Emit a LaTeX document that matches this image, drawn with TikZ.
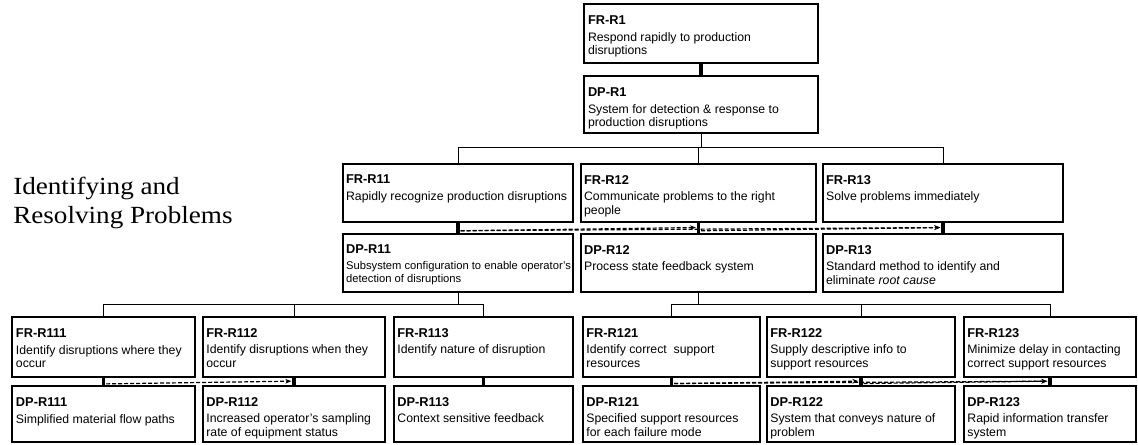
\documentclass[tikz,border=0pt]{standalone}
\usepackage{fontspec}
\setmainfont{Liberation Sans}
\newfontfamily\serifA{Liberation Serif}
\usetikzlibrary{fit,calc,arrows.meta}
\newcommand\titlefnt{\fontsize{9.6pt}{10.2pt}\selectfont\bfseries}
\newcommand\descfnt{\fontsize{9.2pt}{10.3pt}\selectfont}
\newcommand\smalldescfnt{\fontsize{8.4pt}{9.6pt}\selectfont}
\tikzset{
  thinbox/.style={draw, line width=0.8pt, inner sep=0pt},
  thickbox/.style={draw, line width=2.1pt, inner sep=0pt},
  medbox/.style={draw, line width=1.7pt, inner sep=0pt},
  txt/.style={inner sep=0pt, align=left, font=\descfnt},
  smalltxt/.style={inner sep=0pt, align=left, font=\smalldescfnt},
  fdlink/.style={line width=2.6pt},
  tree/.style={line width=0.7pt},
  dep/.style={line width=0.9pt, dash pattern=on 3pt off 1.5pt, -{Stealth[length=4.5pt,width=3.5pt]}},
  lefttitle/.style={inner sep=0pt, anchor=base west, font=\serifA\fontsize{18.5pt}{21pt}\selectfont}
}
% #1 name, #2 box style, #3-#6 corners, #7 title, #8 text, #9 text style
\newcommand\dbox[9]{%
  \node[#2, fit={(#3,#4) (#5,#6)}] (#1) {};
  \node[#9, anchor=north west] (#1t) at ([xshift=3.2pt,yshift=-9.2pt]#1.north west)
    {{\titlefnt #7}\\[2pt]#8};
}
\begin{document}
\begin{tikzpicture}[x=0.75pt,y=-0.75pt]
\useasboundingbox (0,0) rectangle (1138,444);

% left title
\node[lefttitle] (L1) at (13,194) {\scalebox{1.1}[1]{Identifying and}};
\node[lefttitle] (L2) at (13,223) {\scalebox{1.1}[1]{Resolving Problems}};

% level 1
\dbox{FR1}{thinbox}{584}{4}{818}{63}{FR-R1}{Respond rapidly to production\\disruptions}{txt}
\dbox{DP1}{thinbox}{584}{76}{818}{133}{DP-R1}{System for detection \& response to\\production disruptions}{txt}

% level 2
\dbox{FR11}{thickbox}{343}{164}{573}{222}{FR-R11}{Rapidly recognize production disruptions}{txt}
\dbox{FR12}{thickbox}{581}{164}{816}{222}{FR-R12}{Communicate problems to the right\\people}{txt}
\dbox{FR13}{thickbox}{823}{164}{1063}{222}{FR-R13}{Solve problems immediately}{txt}
\dbox{DP11}{thickbox}{343}{234}{573}{292}{DP-R11}{Subsystem configuration to enable operator's\\detection of disruptions}{smalltxt}
\dbox{DP12}{thickbox}{581}{234}{816}{292}{DP-R12}{Process state feedback system}{txt}
\dbox{DP13}{thickbox}{823}{234}{1063}{292}{DP-R13}{Standard method to identify and\\eliminate \textit{root cause}}{txt}

% level 3
\dbox{FR111}{thinbox}{12}{317}{195}{377}{FR-R111}{Identify disruptions where they\\occur}{txt}
\dbox{FR112}{medbox}{203}{317}{385}{377}{FR-R112}{Identify disruptions when they\\occur}{txt}
\dbox{FR113}{medbox}{394}{317}{573}{377}{FR-R113}{Identify nature of disruption}{txt}
\dbox{FR121}{medbox}{583}{317}{760}{377}{FR-R121}{Identify correct\ \ support\\resources}{txt}
\dbox{FR122}{medbox}{767}{317}{955}{377}{FR-R122}{Supply descriptive info to\\support resources}{txt}
\dbox{FR123}{medbox}{964}{317}{1136}{377}{FR-R123}{Minimize delay in contacting\\correct support resources}{txt}
\dbox{DP111}{thinbox}{12}{386}{195}{442}{DP-R111}{Simplified material flow paths}{txt}
\dbox{DP112}{medbox}{203}{386}{385}{442}{DP-R112}{Increased operator's sampling\\rate of equipment status}{txt}
\dbox{DP113}{medbox}{394}{386}{573}{442}{DP-R113}{Context sensitive feedback}{txt}
\dbox{DP121}{medbox}{583}{386}{760}{442}{DP-R121}{Specified support resources\\for each failure mode}{txt}
\dbox{DP122}{medbox}{767}{386}{955}{442}{DP-R122}{System that conveys nature of\\problem}{txt}
\dbox{DP123}{medbox}{964}{386}{1136}{442}{DP-R123}{Rapid information transfer\\system}{txt}

% FR -> DP links
\foreach \n in {1,11,12,13,111,112,113,121,122,123}
  \draw[fdlink] (FR\n.south) -- (DP\n.north);

% tree connectors
\coordinate (j1) at ($(DP1.south)+(0,14)$);
\coordinate (j2) at ($(DP11.south)+(0,11)$);
\coordinate (j3) at ($(DP12.south)+(0,11)$);
\draw[tree] (DP1.south) -- (j1);
\draw[tree] (FR11.north) |- (j1) -| (FR13.north);
\draw[tree] (FR12.north) |- (j1);
\draw[tree] (DP11.south) -- (j2);
\draw[tree] (FR111.north) |- (j2) -| (FR113.north);
\draw[tree] (FR112.north) |- (j2);
\draw[tree] (DP12.south) -- (j3);
\draw[tree] (FR121.north) |- (j3) -| (FR123.north);
\draw[tree] (FR122.north) |- (j3);

% coupling (dashed) arrows
\foreach \n in {11,12,13,111,112,121,122,123}{
  \coordinate (lo\n) at ($(FR\n.south)!0.8!(DP\n.north)$);
  \coordinate (hi\n) at ($(FR\n.south)!0.45!(DP\n.north)$);
}
\draw[dep] ([xshift=2pt]lo11) -- ([xshift=-2pt]hi12);
\draw[dep] ([xshift=2pt]lo11) -- ([xshift=-2pt]hi13);
\draw[dep] ([xshift=2pt]lo12) -- ([xshift=-2pt]hi13);
\draw[dep] ([xshift=2pt]lo111) -- ([xshift=-2pt]hi112);
\draw[dep] ([xshift=2pt]lo121) -- ([xshift=-2pt]hi122);
\draw[dep] ([xshift=2pt]lo121) -- ([xshift=-2pt]hi123);
\draw[dep] ([xshift=2pt]lo122) -- ([xshift=-2pt]hi123);
\end{tikzpicture}
\end{document}
